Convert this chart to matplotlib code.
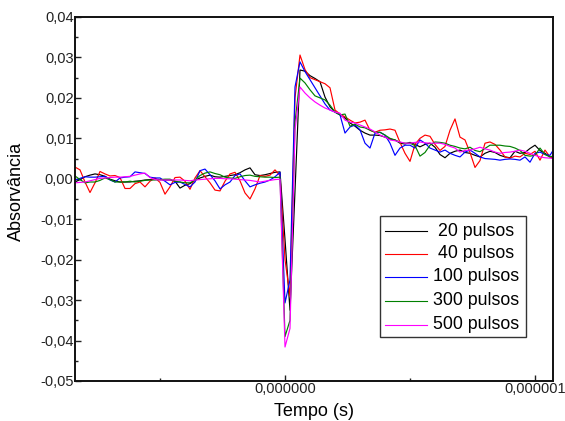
import numpy as np
import matplotlib
matplotlib.use("Agg")
import matplotlib.pyplot as plt
from matplotlib.ticker import MultipleLocator, FuncFormatter
from matplotlib.patches import Rectangle
from matplotlib.lines import Line2D

plt.rcParams['font.family'] = ['Liberation Sans', 'DejaVu Sans']

# Sampling instants (microseconds), uniform 20 ns step
tempo_us = np.linspace(-0.84, 1.08, 97)

# Transient absorbance, in milli-absorbance units
abs_20 = [-0.8, -0.2, 0.5, 0.9, 1.2, 1.0, 0.6, -0.1, -0.5, -0.8, -0.8, -0.8, -0.6, -0.5,
          -0.3, -0.2, -0.1, -0.2, -0.3, -0.3, -0.6, -2.3, -1.6, -1.2, -0.4, 0.2, 0.6, 0.9,
          0.5, 0.4, 0.6, 0.8, 1.0, 1.5, 2.2, 2.7, 1.0, 0.8, 1.0, 1.3, 1.6, 1.7,
          -15.0, -32.5, -3.0,
          26.9, 26.6, 25.5, 24.8, 24.0, 20.2, 17.8, 16.5, 15.8, 15.0,
          13.8, 13.0, 12.0, 11.3, 10.8, 10.8, 10.7, 10.3, 9.8, 9.6,
          8.8, 8.6, 9.0, 8.5, 7.9, 8.5, 8.8, 7.8, 6.0, 5.2,
          6.3, 6.8, 7.1, 6.5, 6.3, 5.8, 5.4, 6.3, 6.8, 6.5,
          5.8, 5.4, 5.2, 6.8, 6.3, 6.5, 7.5, 8.3, 7.0, 6.3,
          5.4, 5.0]

abs_40 = [2.9, 2.2, -0.8, -3.4, -1.0, 1.8, 1.2, 0.7, 0.8, 0.3, -2.4, -2.4, -1.2, -0.8,
          -2.0, -0.6, 0.2, -0.9, -3.8, -2.0, 0.3, 0.4, -0.6, -2.6, 0.2, 2.0, 0.5, -1.0,
          -2.8, -3.0, -0.6, 1.2, 1.6, -0.5, -3.5, -5.0, -2.5, 0.8, 0.6, 0.9, 2.2, 0.8,
          -20.0, -29.0, 20.0,
          30.6, 27.0, 25.0, 24.5, 24.0, 23.5, 22.5, 17.0, 16.0, 15.3,
          14.5, 13.8, 14.0, 14.5, 12.0, 11.5, 12.0, 12.1, 12.3, 12.0,
          9.0, 6.3, 4.3, 8.5, 10.0, 10.8, 10.5, 8.5, 7.0, 8.0,
          12.0, 14.8, 10.3, 9.6, 6.5, 2.8, 4.5, 8.8, 9.1, 8.5,
          7.1, 5.4, 5.1, 5.6, 5.4, 6.3, 6.0, 6.8, 4.6, 7.1,
          5.4, 4.6]

abs_100 = [-0.3, 0.1, 0.5, 0.4, 0.4, 0.5, 0.6, -0.3, -0.8, 0.2, 0.4, 0.5, 1.7, 1.5,
           1.3, 0.4, 0.2, 0.2, -0.6, -1.5, -0.9, -0.8, -1.4, -2.0, -0.8, 2.0, 2.4, 1.0,
           -0.5, -2.5, -1.5, -0.8, 0.8, 1.2, -0.5, -2.0, -1.5, -1.1, -0.8, -0.3, 0.5, 1.6,
           -30.7, -25.0, 22.7,
           28.9, 26.5, 24.5, 22.5, 20.5, 18.5, 17.0, 16.5, 15.8, 11.3,
           12.8, 13.3, 12.1, 8.8, 7.6, 11.3, 11.5, 10.8, 8.8, 5.8,
           7.6, 8.3, 8.3, 7.6, 9.6, 8.8, 7.6, 7.1, 6.6, 7.1,
           6.3, 5.8, 5.4, 6.6, 7.1, 6.3, 5.4, 5.0, 4.9, 4.8,
           4.6, 4.8, 4.9, 4.8, 4.6, 5.4, 4.1, 6.3, 6.6, 6.0,
           5.8, 7.8]

abs_300 = [0.7, -0.2, -1.0, -0.8, -0.8, -0.4, 0.2, -0.2, -0.8, -0.8, -0.8, -0.6, -0.8, -0.6,
           -0.4, -0.3, -0.3, -0.2, -0.1, -0.1, -0.6, -0.8, -1.0, -1.0, -0.3, 0.8, 1.4, 1.7,
           1.3, 1.0, 0.4, 0.2, 0.1, 0.5, 0.8, 0.9, 0.6, 0.5, 0.4, 0.4, 0.3, 0.4,
           -39.0, -35.0, 14.0,
           24.9, 23.7, 22.0, 20.5, 20.0, 19.5, 18.2, 16.5, 15.8, 16.0,
           13.0, 13.5, 12.8, 12.6, 12.0, 11.5, 11.5, 10.8, 10.0, 9.6,
           9.0, 8.8, 8.8, 8.2, 5.6, 6.5, 8.3, 9.1, 9.0, 8.8,
           8.3, 8.0, 7.6, 7.4, 7.8, 7.0, 6.7, 7.5, 8.3, 8.3,
           8.3, 8.1, 8.0, 7.6, 7.0, 5.8, 5.6, 5.8, 7.6, 6.0,
           5.4, 5.8]

abs_500 = [-1.0, -0.9, -0.8, -0.5, -0.2, 0.1, 0.2, 0.3, 0.4, 0.4, 0.5, 0.6, 0.9, 1.2,
           1.4, 0.3, -0.2, -0.3, -0.3, -0.3, -0.3, -0.3, -0.4, -0.5, -0.3, -0.2, -0.1, 0.0,
           0.1, 0.1, 0.0, 0.0, -0.1, -0.2, -0.3, -0.4, -0.6, -0.8, -0.6, -0.4, -0.2, -0.1,
           -41.6, -37.0, 12.0,
           22.7, 21.2, 20.0, 19.0, 18.2, 17.5, 17.0, 16.5, 16.2, 14.5,
           14.0, 13.8, 13.3, 12.8, 12.3, 11.6, 10.8, 10.3, 9.6, 9.4,
           9.1, 8.8, 8.8, 9.0, 9.1, 8.9, 8.8, 8.8, 8.8, 8.5,
           8.0, 7.6, 6.6, 7.0, 7.1, 7.4, 7.8, 7.4, 7.1, 6.6,
           6.3, 6.5, 6.6, 6.8, 7.1, 6.8, 6.3, 5.8, 5.4, 5.2,
           5.1, 5.0]

series_labels = ["20 pulsos", "40 pulsos", "100 pulsos", "300 pulsos", "500 pulsos"]
series_values = [abs_20, abs_40, abs_100, abs_300, abs_500]
series_colors = ["#000000", "#ff0000", "#0000ff", "#008000", "#ff00ff"]

fig = plt.figure(figsize=(5.65, 4.21), dpi=100)
ax = fig.add_axes([75 / 565, 1 - 381 / 421, 478 / 565, 364 / 421])

t_seconds = tempo_us * 1e-6
for vals, col in zip(series_values, series_colors):
    ax.plot(t_seconds, np.array(vals) * 1e-3, color=col, lw=0.85)

ax.set_xlim(-0.84e-6, 1.072e-6)
ax.set_ylim(-0.05, 0.04)

ax.xaxis.set_major_locator(MultipleLocator(1e-6))
ax.xaxis.set_minor_locator(MultipleLocator(0.5e-6))
ax.yaxis.set_major_locator(MultipleLocator(0.01))
ax.yaxis.set_minor_locator(MultipleLocator(0.005))

ax.xaxis.set_major_formatter(FuncFormatter(lambda v, p: f"{v:.6f}".replace("-0.000000", "0.000000").replace(".", ",")))
ax.yaxis.set_major_formatter(FuncFormatter(lambda v, p: f"{v:.2f}".replace("-0.00", "0.00").replace(".", ",")))

ax.tick_params(which="both", direction="in", top=False, right=False, width=1.0, colors="#222222")
ax.tick_params(which="major", length=4, labelsize=10.5, pad=1.0)
ax.tick_params(which="minor", length=2.5)
for s in ax.spines.values():
    s.set_linewidth(1.4)
    s.set_color("#111111")

ax.set_xlabel("Tempo (s)", fontsize=13, labelpad=5)
ax.set_ylabel("Absorvância", fontsize=13)
ax.yaxis.set_label_coords(-0.105, 0.52)

# Legend box with centred entry labels
x0, x1 = 0.638, 0.9435
y0, y1 = 0.121, 0.4533
ax.add_patch(Rectangle((x0, y0), x1 - x0, y1 - y0, transform=ax.transAxes,
                       facecolor="white", edgecolor="#333333", lw=1.0, zorder=5))
rows = [0.412, 0.349, 0.286, 0.220, 0.154]
for lab, col, yy in zip(series_labels, series_colors, rows):
    ax.add_line(Line2D([0.6485, 0.7364], [yy, yy], transform=ax.transAxes,
                       color=col, lw=0.8, zorder=6))
    ax.text(0.839, yy, lab, transform=ax.transAxes, ha="center", va="center",
            fontsize=12.8, zorder=6)

fig.savefig("out.png", dpi=100)
